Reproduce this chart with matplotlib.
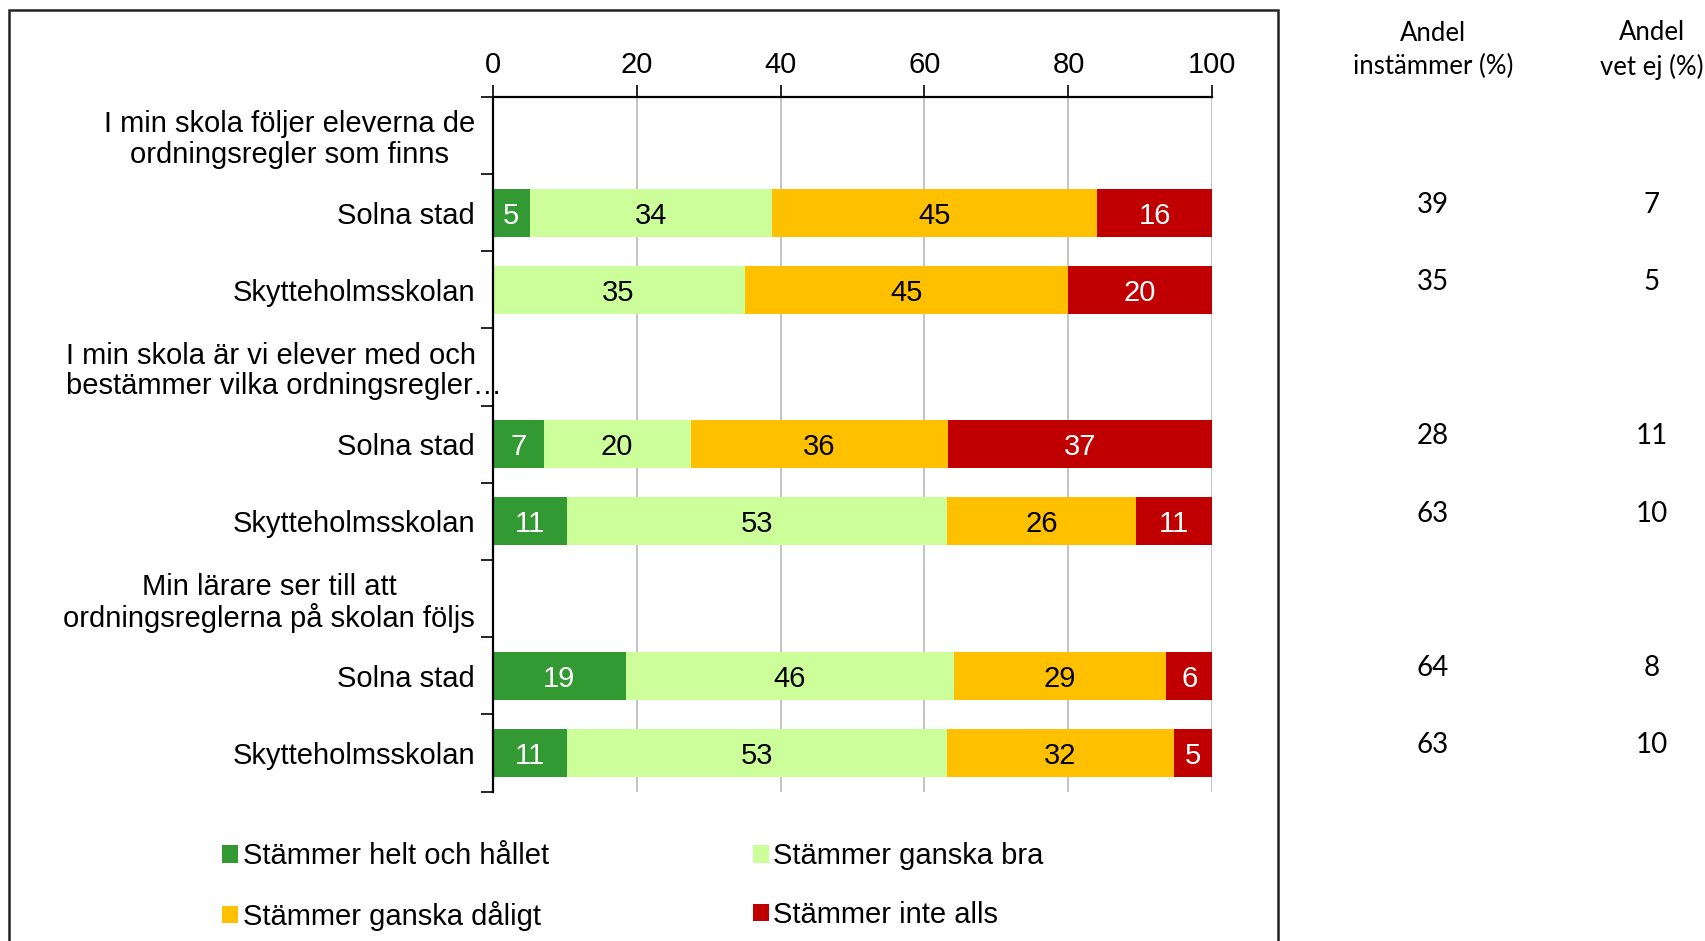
#Stacked bar chart: ordningsregler, Solna stad vs Skytteholmsskolan

import numpy as np
import matplotlib
matplotlib.use("Agg")
import matplotlib.pyplot as plt
from matplotlib.patches import Rectangle
from matplotlib.transforms import ScaledTranslation, blended_transform_factory

#data
row_labels = [
    "I min skola följer eleverna de\nordningsregler som finns",
    "Solna stad",
    "Skytteholmsskolan",
    "I min skola är vi elever med och\nbestämmer vilka ordningsregler…",
    "Solna stad",
    "Skytteholmsskolan",
    "Min lärare ser till att\nordningsreglerna på skolan följs",
    "Solna stad",
    "Skytteholmsskolan",
]
bar_rows = [1, 2, 4, 5, 7, 8]

series_names = ["Stämmer helt och hållet", "Stämmer ganska bra",
                "Stämmer ganska dåligt", "Stämmer inte alls"]
# bar widths (%)
helt = [5.2, 0, 7.1, 10.4, 18.5, 10.4]
ganska_bra = [33.6, 35.0, 20.4, 52.7, 45.6, 52.7]
ganska_daligt = [45.1, 44.9, 35.7, 26.3, 29.5, 31.6]
inte_alls = [16.1, 20.1, 36.8, 10.6, 6.4, 5.3]
# printed labels
helt_lbl = [5, None, 7, 11, 19, 11]
ganska_bra_lbl = [34, 35, 20, 53, 46, 53]
ganska_daligt_lbl = [45, 45, 36, 26, 29, 32]
inte_alls_lbl = [16, 20, 37, 11, 6, 5]

andel_instammer = [39, 35, 28, 63, 64, 63]
andel_vet_ej = [7, 5, 11, 10, 8, 10]

colors = ["#339933", "#CCFF99", "#FFC000", "#C00000"]
text_colors = ["white", "black", "black", "white"]

plt.rcParams["font.family"] = ["Liberation Sans", "DejaVu Sans"]

fig = plt.figure(figsize=(17.05, 9.41), dpi=100)
ax = fig.add_axes([0.2889, 0.1588, 0.4222, 0.7383])

series = [helt, ganska_bra, ganska_daligt, inte_alls]
series_lbl = [helt_lbl, ganska_bra_lbl, ganska_daligt_lbl, inte_alls_lbl]
left = np.zeros(len(bar_rows))
bars = []
for vals, lbls, name, col, tcol in zip(series, series_lbl, series_names, colors, text_colors):
    vals = np.array(vals, dtype=float)
    b = ax.barh(bar_rows, vals, left=left, height=0.62, color=col, label=name, zorder=2)
    bars.append(b)
    for y, l, v, t in zip(bar_rows, left, vals, lbls):
        if t is not None:
            ax.text(l + v / 2, y, str(t), ha="center", va="center_baseline",
                    fontsize=21, color=tcol, zorder=3)
    left = left + vals

ax.set_xlim(0, 100)
ax.set_ylim(len(row_labels) - 0.5, -0.5)
ax.set_xticks([0, 20, 40, 60, 80, 100])
ax.xaxis.tick_top()
ax.tick_params(axis="x", direction="out", length=9, width=1.2, labelsize=21, pad=3.5)
ax.grid(axis="x", color="#BFBFBF", linewidth=1.3, zorder=0)
ax.set_axisbelow(True)

ax.set_yticks(range(len(row_labels)))
ax.set_yticklabels(row_labels, fontsize=21, multialignment="center", linespacing=1.1)
ax.set_yticks(np.arange(-0.5, len(row_labels), 1), minor=True)
ax.tick_params(axis="y", which="major", length=0, pad=12.7)
ax.tick_params(axis="y", which="minor", length=9, width=1.2, direction="out")

# the second question label runs over the axis in the original
lab = ax.get_yticklabels()[3]
lab.set_multialignment("left")
lab.set_transform(lab.get_transform() + ScaledTranslation(0.27, 0, fig.dpi_scale_trans))

for s in ["right", "bottom"]:
    ax.spines[s].set_visible(False)
for s in ["left", "top"]:
    ax.spines[s].set_linewidth(1.6)

#right side columns
trans = blended_transform_factory(fig.transFigure, ax.transData)
col_x = [1433 / 1705, 1652 / 1705]
side_font = ["Lato", "DejaVu Sans"]
fig.text(col_x[0], 1 - 50 / 941, "Andel\ninstämmer (%)", ha="center", va="center",
         fontsize=18.5, family=side_font, linespacing=1.38)
fig.text(col_x[1], 1 - 50 / 941, "Andel\nvet ej (%)", ha="center", va="center",
         fontsize=18.5, family=side_font, linespacing=1.38)
for y, a, b in zip(bar_rows, andel_instammer, andel_vet_ej):
    ax.text(col_x[0], y - 0.1, str(a), transform=trans, ha="center", va="center",
            fontsize=20, family=side_font)
    ax.text(col_x[1], y - 0.1, str(b), transform=trans, ha="center", va="center",
            fontsize=20, family=side_font)

#legend, filled row by row like the original
order = [0, 2, 1, 3]
fig.legend([bars[i] for i in order], [series_names[i] for i in order], ncol=2,
           loc="upper left", bbox_to_anchor=(0.115, 0.133),
           frameon=False, fontsize=21, handlelength=0.55, handleheight=0.55,
           handletextpad=0.15, columnspacing=7.0, labelspacing=1.05)

#outer border
fig.patches.append(Rectangle((9 / 1705, -0.02), 1269 / 1705, 1.02 - 10 / 941,
                             transform=fig.transFigure, fill=False,
                             edgecolor="#222222", linewidth=1.8))

fig.savefig("out.png", dpi=100)
